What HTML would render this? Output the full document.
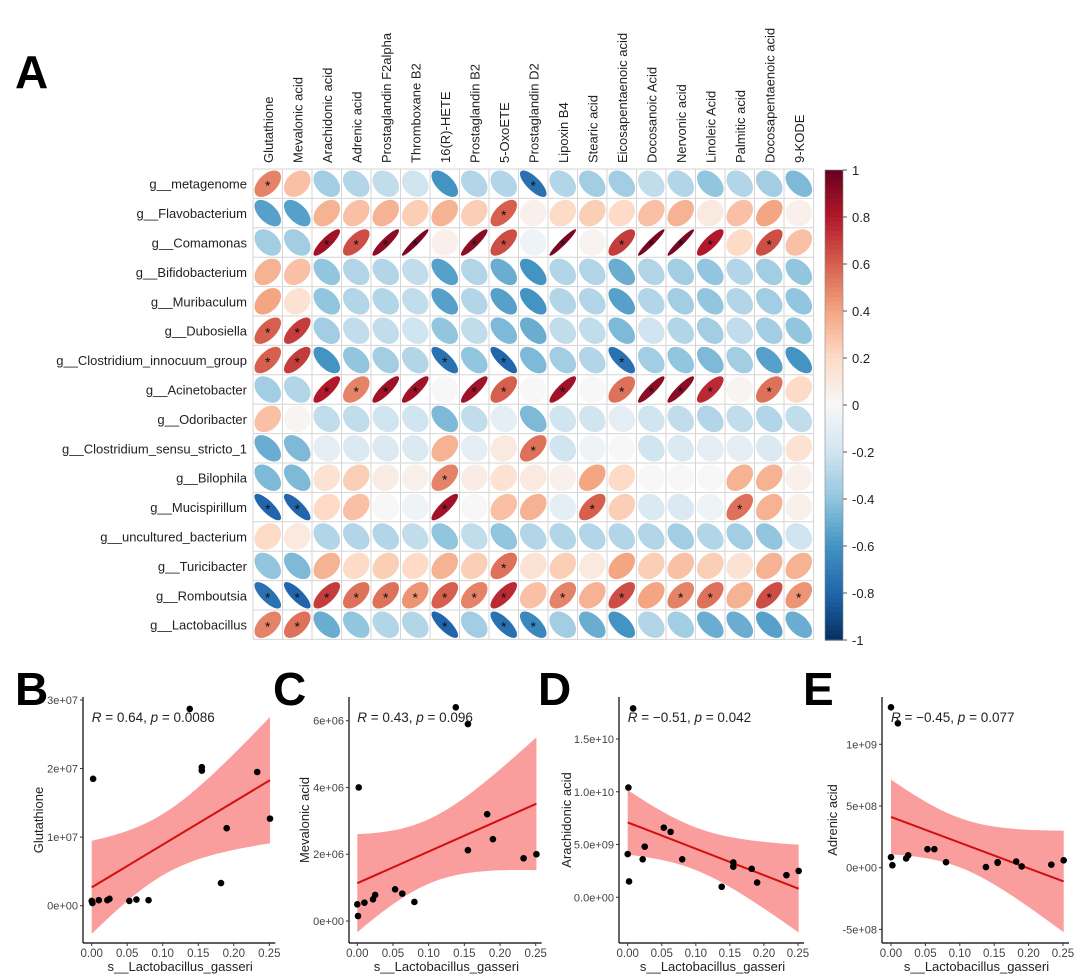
<!DOCTYPE html>
<html><head><meta charset="utf-8"><style>
body{margin:0;background:#fff;}
svg{display:block;font-family:"Liberation Sans",Arial,sans-serif;}
</style></head><body>
<svg id="fig" width="1080" height="980" viewBox="0 0 1080 980"></svg>
<script>
const rowNames=["g__metagenome","g__Flavobacterium","g__Comamonas","g__Bifidobacterium","g__Muribaculum","g__Dubosiella","g__Clostridium_innocuum_group","g__Acinetobacter","g__Odoribacter","g__Clostridium_sensu_stricto_1","g__Bilophila","g__Mucispirillum","g__uncultured_bacterium","g__Turicibacter","g__Romboutsia","g__Lactobacillus"];
const colNames=["Glutathione","Mevalonic acid","Arachidonic acid","Adrenic acid","Prostaglandin F2alpha","Thromboxane B2","16(R)-HETE","Prostaglandin B2","5-OxoETE","Prostaglandin D2","Lipoxin B4","Stearic acid","Eicosapentaenoic acid","Docosanoic Acid","Nervonic acid","Linoleic Acid","Palmitic acid","Docosapentaenoic acid","9-KODE"];
const corrValues=[
[0.5,0.3,-0.35,-0.3,-0.25,-0.2,-0.6,-0.3,-0.3,-0.75,-0.3,-0.35,-0.35,-0.25,-0.3,-0.4,-0.3,-0.35,-0.45],
[-0.55,-0.55,0.35,0.3,0.35,0.25,0.35,0.25,0.6,0.05,0.2,0.25,0.2,0.3,0.35,0.1,0.3,0.4,0.05],
[-0.35,-0.35,0.85,0.65,0.9,0.95,0.05,0.9,0.65,-0.05,0.95,0.03,0.7,0.95,0.95,0.8,0.2,0.65,0.3],
[0.35,0.3,-0.4,-0.3,-0.3,-0.25,-0.55,-0.3,-0.5,-0.6,-0.3,-0.3,-0.5,-0.3,-0.35,-0.4,-0.3,-0.35,-0.4],
[0.4,0.15,-0.4,-0.3,-0.3,-0.25,-0.55,-0.3,-0.55,-0.6,-0.3,-0.3,-0.55,-0.3,-0.35,-0.4,-0.3,-0.35,-0.4],
[0.6,0.7,-0.35,-0.25,-0.25,-0.2,-0.4,-0.25,-0.45,-0.5,-0.25,-0.25,-0.45,-0.2,-0.3,-0.35,-0.25,-0.35,-0.4],
[0.6,0.7,-0.6,-0.4,-0.35,-0.3,-0.75,-0.4,-0.8,-0.45,-0.35,-0.3,-0.75,-0.35,-0.4,-0.45,-0.35,-0.55,-0.6],
[-0.35,-0.3,0.8,0.5,0.85,0.85,0.0,0.85,0.6,0.0,0.85,0.0,0.55,0.9,0.9,0.75,0.02,0.55,0.2],
[0.3,0.02,-0.25,-0.25,-0.2,-0.2,-0.45,-0.25,-0.1,-0.45,-0.2,-0.2,-0.1,-0.2,-0.25,-0.3,-0.25,-0.3,-0.25],
[-0.5,-0.45,-0.1,-0.15,-0.15,-0.15,0.35,-0.1,0.1,0.55,-0.2,-0.05,0.0,-0.2,-0.15,-0.1,-0.1,-0.15,0.15],
[-0.45,-0.45,0.15,0.25,0.08,0.05,0.5,0.08,0.15,0.1,0.05,0.4,0.2,0.0,0.0,0.0,0.35,0.35,0.05],
[-0.8,-0.8,0.2,0.3,0.0,-0.05,0.85,0.0,0.3,0.35,-0.1,0.6,0.25,-0.15,-0.15,-0.05,0.55,0.35,0.05],
[0.2,0.1,-0.3,-0.3,-0.3,-0.25,-0.4,-0.25,-0.4,-0.3,-0.3,-0.3,-0.3,-0.3,-0.35,-0.3,-0.35,-0.4,-0.2],
[-0.4,-0.45,0.35,0.2,0.25,0.2,0.35,0.25,0.55,0.15,0.25,0.1,0.4,0.25,0.3,0.25,0.15,0.35,0.35],
[-0.75,-0.8,0.7,0.55,0.55,0.45,0.6,0.5,0.75,0.3,0.5,0.35,0.65,0.4,0.5,0.55,0.35,0.65,0.45],
[0.5,0.55,-0.5,-0.4,-0.3,-0.3,-0.8,-0.35,-0.75,-0.65,-0.35,-0.5,-0.6,-0.3,-0.35,-0.5,-0.5,-0.55,-0.5]];
const sigFlags=[
"1000000001000000000",
"0000000010000000000",
"0011110110101111010",
"0000000000000000000",
"0000000000000000000",
"1100000000000000000",
"1100001010001000000",
"0011110110101111010",
"0000000000000000000",
"0000000001000000000",
"0000001000000000000",
"1100001000010000100",
"0000000000000000000",
"0000000010000000000",
"1111111110101011011",
"1100001011000000000"];
const colorbarTicks=["1","0.8","0.6","0.4","0.2","0","-0.2","-0.4","-0.6","-0.8","-1"];

const gasseriX=[0.0,0.001,0.002,0.01,0.022,0.025,0.053,0.063,0.08,0.138,0.155,0.155,0.182,0.19,0.233,0.251];
const glutathioneY=[0.07e7,0.04e7,1.85e7,0.08e7,0.08e7,0.1e7,0.07e7,0.09e7,0.08e7,2.87e7,2.02e7,1.97e7,0.33e7,1.13e7,1.95e7,1.27e7];
const mevalonicY=[0.5e6,0.15e6,4.0e6,0.55e6,0.65e6,0.78e6,0.95e6,0.82e6,0.57e6,6.4e6,5.9e6,2.12e6,3.2e6,2.45e6,1.88e6,2.0e6];
const arachidonicX=[0.0,0.001,0.002,0.008,0.022,0.025,0.053,0.063,0.08,0.138,0.155,0.155,0.182,0.19,0.233,0.251];
const arachidonicY=[4.1e9,10.4e9,1.5e9,17.9e9,3.6e9,4.8e9,6.6e9,6.2e9,3.6e9,1.0e9,3.3e9,2.9e9,2.7e9,1.4e9,2.1e9,2.5e9];
const adrenicX=[0.0,0.0,0.002,0.01,0.022,0.025,0.053,0.063,0.08,0.138,0.155,0.155,0.182,0.19,0.233,0.251];
const adrenicY=[0.85e8,13e8,0.2e8,11.7e8,0.75e8,1.0e8,1.5e8,1.5e8,0.45e8,0.05e8,0.4e8,0.45e8,0.5e8,0.1e8,0.25e8,0.6e8];
const xTickValues=[0,0.05,0.1,0.15,0.2,0.25];
const xTickLabels=["0.00","0.05","0.10","0.15","0.20","0.25"];
const bTicks=[0,1e7,2e7,3e7], bTickLabels=["0e+00","1e+07","2e+07","3e+07"];
const cTicks=[0,2e6,4e6,6e6], cTickLabels=["0e+00","2e+06","4e+06","6e+06"];
const dTicks=[0,5e9,1e10,1.5e10], dTickLabels=["0.0e+00","5.0e+09","1.0e+10","1.5e+10"];
const eTicks=[-5e8,0,5e8,1e9], eTickLabels=["-5e+08","0e+00","5e+08","1e+09"];
const statLabels=["R = 0.64, p = 0.0086","R = 0.43, p = 0.096","R = \u22120.51, p = 0.042","R = \u22120.45, p = 0.077"];

const NS="http://www.w3.org/2000/svg";
const svg=document.getElementById('fig');
function mk(tag,attrs,parent,text){const e=document.createElementNS(NS,tag);for(const k in attrs)e.setAttribute(k,attrs[k]);if(text!==undefined)e.textContent=text;(parent||svg).appendChild(e);return e;}

const pal=[[5,48,97],[33,102,172],[67,147,195],[146,197,222],[209,229,240],[247,247,247],[253,219,199],[244,165,130],[214,96,77],[178,24,43],[103,0,31]];
function col(r){let t=(r+1)/2*10;let i=Math.min(9,Math.floor(t));let f=t-i;const a=pal[i],b=pal[i+1];return `rgb(${Math.round(a[0]+(b[0]-a[0])*f)},${Math.round(a[1]+(b[1]-a[1])*f)},${Math.round(a[2]+(b[2]-a[2])*f)})`;}

[["A",15,88],["B",15,705],["C",273,705],["D",538,705],["E",803,705]].forEach(p=>{
 const t=mk('text',{x:p[1],y:p[2],'font-size':46,'font-weight':'bold',fill:'#000'},svg,p[0]);
 
 
});

const gx0=253,gy0=169,cw=29.5,ch=29.4;
const heat=mk('g',{});


for(let i=0;i<=colNames.length;i++)mk('line',{x1:gx0+i*cw,x2:gx0+i*cw,y1:gy0,y2:gy0+rowNames.length*ch,stroke:'#d6d6d6','stroke-width':1},heat);
for(let j=0;j<=rowNames.length;j++)mk('line',{x1:gx0,x2:gx0+colNames.length*cw,y1:gy0+j*ch,y2:gy0+j*ch,stroke:'#d6d6d6','stroke-width':1},heat);
colNames.forEach((n,i)=>{
 const cx=gx0+(i+0.5)*cw;
 const t=mk('text',{x:0,y:0,transform:`translate(${cx+5},163) rotate(-90)`,'font-size':13,fill:'#222'},svg,n);
 
 
});
rowNames.forEach((n,j)=>{
 const t=mk('text',{x:247,y:gy0+(j+0.5)*ch+5,'font-size':13,fill:'#222','text-anchor':'end'},svg,n);
 
 
 corrValues[j].forEach((r,i)=>{
  const cx=gx0+(i+0.5)*cw, cy=gy0+(j+0.5)*ch;
  const d=Math.acos(Math.max(-0.999,Math.min(0.999,r)));
  let pts=[];
  for(let k=0;k<48;k++){const th=k/48*2*Math.PI;pts.push((cx+Math.cos(th+d/2)*cw*0.45).toFixed(2)+','+(cy-Math.cos(th-d/2)*ch*0.45).toFixed(2));}
  const e=mk('polygon',{points:pts.join(' '),fill:col(r)},heat);
  
  
  if(sigFlags[j][i]==='1'){
   const s=mk('text',{x:cx,y:cy+7,'font-size':14,'text-anchor':'middle',fill:'#111'},heat,'*');
   
   
  }
 });
});
const cb=mk('g',{});


const cbTop=170,cbBot=640;
for(let k=0;k<100;k++){const r=1-k/100*2-0.01;mk('rect',{x:825,y:cbTop+k*(cbBot-cbTop)/100,width:18,height:(cbBot-cbTop)/100+0.6,fill:col(r)},cb);}
mk('rect',{x:825,y:cbTop,width:18,height:cbBot-cbTop,fill:'none',stroke:'#888','stroke-width':0.6},cb);
colorbarTicks.forEach((l,k)=>{const y=cbTop+k*(cbBot-cbTop)/10;mk('line',{x1:843,x2:847,y1:y,y2:y,stroke:'#555'},cb);
 const t=mk('text',{x:852,y:y+5,'font-size':13,fill:'#222'},cb,l);
 
 });

function lm(xs,ys){const n=xs.length;const mx=xs.reduce((a,b)=>a+b)/n,my=ys.reduce((a,b)=>a+b)/n;let sxx=0,sxy=0;for(let i=0;i<n;i++){sxx+=(xs[i]-mx)**2;sxy+=(xs[i]-mx)*(ys[i]-my);}const b=sxy/sxx,a=my-b*mx;let sse=0;for(let i=0;i<n;i++)sse+=(ys[i]-a-b*xs[i])**2;const s=Math.sqrt(sse/(n-2));return{a,b,s,mx,sxx,n};}
function panel(cfg){
 const g=mk('g',{});
 
 
 const X=v=>cfg.x0+(cfg.x25-cfg.x0)*v/0.25;
 const Y=v=>cfg.yA+(cfg.yB-cfg.yA)*(v-cfg.vA)/(cfg.vB-cfg.vA);
 const f=lm(cfg.xs,cfg.ys);const t=2.145;
 const xmin=Math.min(...cfg.xs),xmax=Math.max(...cfg.xs);
 let up=[],lo=[];
 for(let k=0;k<=60;k++){const x=xmin+(xmax-xmin)*k/60;const yh=f.a+f.b*x;const se=f.s*Math.sqrt(1/f.n+(x-f.mx)**2/f.sxx);up.push(X(x).toFixed(2)+','+Y(yh+t*se).toFixed(2));lo.unshift(X(x).toFixed(2)+','+Y(yh-t*se).toFixed(2));}
 const band=mk('polygon',{points:up.concat(lo).join(' '),fill:'#f98c8c','fill-opacity':0.85},g);
 
 
 const ln=mk('line',{x1:X(xmin),y1:Y(f.a+f.b*xmin),x2:X(xmax),y2:Y(f.a+f.b*xmax),stroke:'#d10f0f','stroke-width':2},g);
 
 
 cfg.xs.forEach((x,i)=>{const c=mk('circle',{cx:X(x),cy:Y(cfg.ys[i]),r:3.3,fill:'#000'},g);
  
  });
 mk('line',{x1:cfg.ax,x2:cfg.ax,y1:cfg.top,y2:943,stroke:'#000','stroke-width':1.2},g);
 mk('line',{x1:cfg.ax,x2:X(0.25)+6,y1:943,y2:943,stroke:'#000','stroke-width':1.2},g);
 xTickValues.forEach((v,i)=>{mk('line',{x1:X(v),x2:X(v),y1:943,y2:946,stroke:'#333'},g);
  const tl=mk('text',{x:X(v),y:957,'font-size':11.5,'text-anchor':'middle',fill:'#444'},g,xTickLabels[i]);
  
  });
 cfg.ticks.forEach((v,i)=>{mk('line',{x1:cfg.ax-3,x2:cfg.ax,y1:Y(v),y2:Y(v),stroke:'#333'},g);
  const tl=mk('text',{x:cfg.ax-5,y:Y(v)+4,'font-size':11,'text-anchor':'end',fill:'#444'},g,cfg.tickLabels[i]);
  
  });
 const xl=mk('text',{x:(cfg.ax+X(0.25))/2+4,y:971,'font-size':13,'text-anchor':'middle',fill:'#222'},g,'s__Lactobacillus_gasseri');
 
 
 const yl=mk('text',{x:0,y:0,transform:`translate(${cfg.ylx},820) rotate(-90)`,'font-size':13,'text-anchor':'middle',fill:'#222'},g,cfg.ylabel);
 
 
 const parts=cfg.stat.split(', p = ');
 const st=mk('text',{x:cfg.x0,y:722,'font-size':13.5,fill:'#222'},g);
 
 
 mk('tspan',{'font-style':'italic'},st,'R');
 mk('tspan',{},st,parts[0].slice(1)+', ');
 mk('tspan',{'font-style':'italic'},st,'p');
 mk('tspan',{},st,' = '+parts[1]);
}
panel({name:'scatter-glutathione',xs:gasseriX,ys:glutathioneY,x0:91.7,x25:269.3,vA:0,yA:905.7,vB:3e7,yB:700,ax:83,top:697,ticks:bTicks,tickLabels:bTickLabels,ylabel:'Glutathione',ylx:43,stat:statLabels[0]});
panel({name:'scatter-mevalonic',xs:gasseriX,ys:mevalonicY,x0:357.3,x25:535.7,vA:0,yA:921,vB:6e6,yB:720.7,ax:349,top:697,ticks:cTicks,tickLabels:cTickLabels,ylabel:'Mevalonic acid',ylx:309,stat:statLabels[1]});
panel({name:'scatter-arachidonic',xs:arachidonicX,ys:arachidonicY,x0:627.7,x25:798,vA:0,yA:897.3,vB:1.5e10,yB:739,ax:619,top:697,ticks:dTicks,tickLabels:dTickLabels,ylabel:'Arachidonic acid',ylx:571,stat:statLabels[2]});
panel({name:'scatter-adrenic',xs:adrenicX,ys:adrenicY,x0:891,x25:1063,vA:0,yA:867.7,vB:1e9,yB:744.3,ax:882,top:697,ticks:eTicks,tickLabels:eTickLabels,ylabel:'Adrenic acid',ylx:837,stat:statLabels[3]});
</script>
</body></html>
